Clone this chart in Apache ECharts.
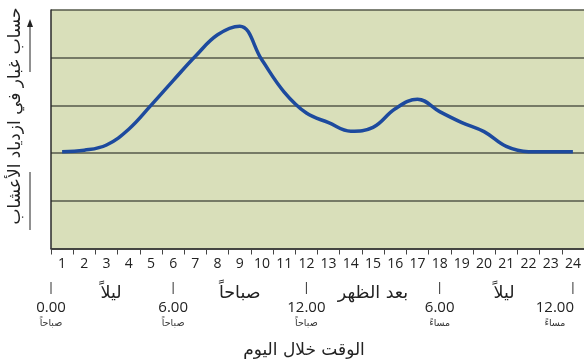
<!DOCTYPE html>
<html>
<head>
<meta charset="utf-8">
<script src="https://cdn.jsdelivr.net/npm/echarts@6/dist/echarts.min.js"></script>
<style>
  html, body { margin: 0; padding: 0; background: #ffffff; }
  #chart { width: 584px; height: 364px; }
</style>
</head>
<body>
<div id="chart"></div>
<script>
// Hours of the day (categories on the x axis)
const hours = ['1','2','3','4','5','6','7','8','9','10','11','12',
               '13','14','15','16','17','18','19','20','21','22','23','24'];

// Relative pollen count for each hour
const pollenCount = [2.03, 2.06, 2.17, 2.50, 3.00, 3.52, 4.03, 4.48, 4.66, 3.95, 3.28, 2.84,
                     2.64, 2.46, 2.54, 2.93, 3.13, 2.87, 2.64, 2.45, 2.14, 2.03, 2.03, 2.03];

// Clock times marked under the hour axis (position in hour units)
const clockPositions = [0.5, 6, 12, 18, 24];
const clockTimes = ['0.00', '6.00', '12.00', '6.00', '12.00'];
const clockPeriods = ['صباحاً', 'صباحاً', 'صباحاً', 'مساءً', 'مساءً'];

// Parts of the day (centre position in hour units)
const phasePositions = [3.2, 9, 15, 20.9];
const phaseNames = ['ليلاً', 'صباحاً', 'بعد الظهر', 'ليلاً'];

const xTitle = 'الوقت خلال اليوم';
const yTitle = 'حساب غبار في ازدياد الأعشاب';

const arabicFont = '"DejaVu Sans", sans-serif';
const numberFont = '"Open Sans", "Noto Sans", sans-serif';

const chart = echarts.init(document.getElementById('chart'), null, { renderer: 'canvas' });

chart.setOption({
  animation: false,
  grid: {
    left: 51, top: 10, right: -5, bottom: 115.5,
    show: true,
    backgroundColor: '#d9dfba',
    borderWidth: 0
  },
  xAxis: {
    type: 'category',
    data: hours,
    boundaryGap: true,
    axisLine: { show: true, lineStyle: { color: '#333', width: 1.5 } },
    axisTick: { show: true, length: 6, lineStyle: { color: '#444', width: 1 } },
    axisLabel: {
      margin: 9,
      color: '#222',
      fontFamily: numberFont,
      fontSize: 14
    },
    splitLine: { show: false }
  },
  yAxis: {
    type: 'value',
    min: 0, max: 5, interval: 1,
    axisLine: { show: true, lineStyle: { color: '#2a2a2a', width: 1.5 } },
    axisTick: { show: false },
    axisLabel: { show: false },
    splitLine: { show: true, lineStyle: { color: '#55584a', width: 1.5 } }
  },
  series: [{
    type: 'line',
    data: pollenCount,
    smooth: 0.4,
    symbol: 'none',
    lineStyle: { color: '#1d4a9e', width: 3.5 }
  }]
});

// Pixel position for a (possibly fractional) hour position
function hourToX(pos) {
  const x1 = chart.convertToPixel({ xAxisIndex: 0 }, hours[0]);
  const x2 = chart.convertToPixel({ xAxisIndex: 0 }, hours[1]);
  return x1 + (pos - 1) * (x2 - x1);
}

const graphics = [];

clockPositions.forEach(function (pos, i) {
  const x = hourToX(pos);
  const last = i === clockPositions.length - 1;
  // the last time label is pulled inside the chart edge
  const tx = last ? x - 18 : x;
  graphics.push({
    type: 'line',
    shape: { x1: x, y1: 282, x2: x, y2: 294 },
    style: { stroke: '#333', lineWidth: 1 }
  });
  graphics.push({
    type: 'text',
    x: tx, y: 308,
    style: {
      text: clockTimes[i], fill: '#222',
      font: '15px ' + numberFont,
      textAlign: 'center', textVerticalAlign: 'middle'
    }
  });
  graphics.push({
    type: 'text',
    x: tx, y: 324,
    style: {
      text: clockPeriods[i], fill: '#333',
      font: '9.5px ' + arabicFont,
      textAlign: 'center', textVerticalAlign: 'middle'
    }
  });
});

phasePositions.forEach(function (pos, i) {
  graphics.push({
    type: 'text',
    x: hourToX(pos), y: 293,
    style: {
      text: phaseNames[i], fill: '#222',
      font: '17.5px ' + arabicFont,
      textAlign: 'center', textVerticalAlign: 'middle'
    }
  });
});

// Axis title under the hours
graphics.push({
  type: 'text',
  x: 304, y: 351,
  style: {
    text: xTitle, fill: '#222',
    font: '17px ' + arabicFont,
    textAlign: 'center', textVerticalAlign: 'middle'
  }
});

// Vertical axis title with its arrow
graphics.push({
  type: 'text',
  x: 16, y: 116,
  rotation: Math.PI / 2,
  style: {
    text: yTitle, fill: '#222',
    font: '17px ' + arabicFont,
    textAlign: 'center', textVerticalAlign: 'middle'
  }
});
graphics.push({
  type: 'line',
  shape: { x1: 30, y1: 72, x2: 30, y2: 24 },
  style: { stroke: '#222', lineWidth: 1 }
});
graphics.push({
  type: 'polygon',
  shape: { points: [[30, 19], [27, 27], [33, 27]] },
  style: { fill: '#222' }
});
graphics.push({
  type: 'line',
  shape: { x1: 30, y1: 172, x2: 30, y2: 230 },
  style: { stroke: '#222', lineWidth: 1 }
});

chart.setOption({ graphic: graphics });
</script>
</body>
</html>
